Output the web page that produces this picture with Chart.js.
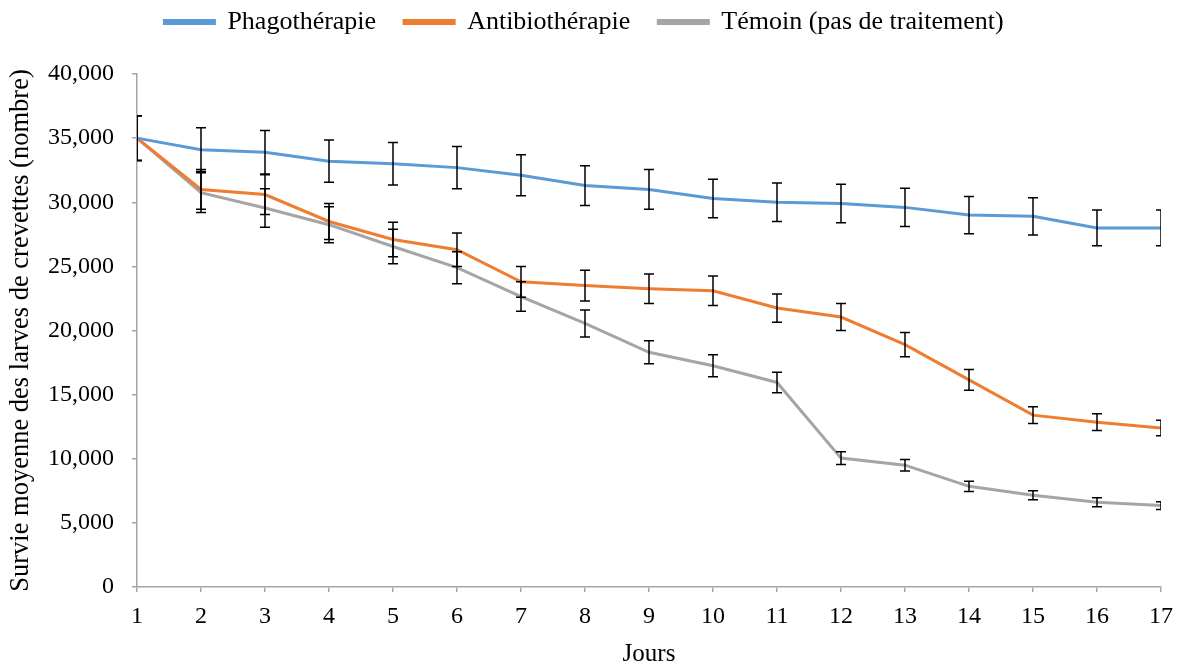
<!DOCTYPE html>
<html>
<head>
<meta charset="utf-8">
<script src="https://cdn.jsdelivr.net/npm/chart.js@4/dist/chart.umd.min.js"></script>
<style>
  html, body { margin: 0; padding: 0; background: #fff; }
  #wrap { width: 1183px; height: 667px; position: relative; }
</style>
</head>
<body>
<div id="wrap"><canvas id="survie"></canvas></div>
<script>
// --- data ---
const days = ['1','2','3','4','5','6','7','8','9','10','11','12','13','14','15','16','17'];
const seriesNames = ['Phagothérapie', 'Antibiothérapie', 'Témoin (pas de traitement)'];

const phago = [35000, 34100, 33900, 33200, 33000, 32700, 32100, 31300, 31000, 30300, 30000, 29900, 29600, 29000, 28900, 28000, 28000];
const antibio = [35000, 31000, 30600, 28500, 27100, 26300, 23800, 23500, 23250, 23100, 21750, 21050, 18900, 16150, 13400, 12850, 12400];
const temoin = [35000, 30750, 29550, 28250, 26550, 24900, 22650, 20550, 18300, 17250, 15950, 10050, 9500, 7850, 7150, 6600, 6350];

// error bar half-lengths (+/-)
const phagoErr = [1750, 1700, 1700, 1650, 1650, 1650, 1600, 1550, 1550, 1500, 1500, 1500, 1500, 1450, 1450, 1400, 1400];
const antibioErr = [1750, 1550, 1550, 1400, 1350, 1300, 1200, 1200, 1150, 1150, 1100, 1050, 950, 800, 650, 650, 600];
const temoinErr = [1750, 1550, 1500, 1400, 1350, 1250, 1150, 1050, 900, 850, 800, 500, 450, 400, 350, 350, 300];

const yTicks = [0, 5000, 10000, 15000, 20000, 25000, 30000, 35000, 40000];

const colors = ['#5B9BD5', '#ED7D31', '#A5A5A5'];
const FONT = "'Liberation Serif', 'Times New Roman', serif";
const LEGEND_SIZE = 26;
const LEGEND_PAD = 28;

// --- error bars, drawn on top of the lines ---
const errorBarPlugin = {
  id: 'errorBars',
  afterDatasetsDraw(chart) {
    const ctx = chart.ctx;
    const area = chart.chartArea;
    const yScale = chart.scales.y;
    ctx.save();
    ctx.beginPath();
    ctx.rect(area.left, 0, area.right - area.left, chart.height);
    ctx.clip();
    ctx.strokeStyle = '#000';
    ctx.lineWidth = 1.5;
    chart.data.datasets.forEach((ds, i) => {
      const meta = chart.getDatasetMeta(i);
      meta.data.forEach((pt, j) => {
        const v = ds.data[j];
        const e = ds.errors[j];
        const yTop = yScale.getPixelForValue(v + e);
        const yBot = yScale.getPixelForValue(v - e);
        const x = pt.x;
        ctx.beginPath();
        ctx.moveTo(x, yTop); ctx.lineTo(x, yBot);
        ctx.moveTo(x - 5, yTop); ctx.lineTo(x + 5, yTop);
        ctx.moveTo(x - 5, yBot); ctx.lineTo(x + 5, yBot);
        ctx.stroke();
      });
    });
    ctx.restore();
  }
};

// keep the legend row near the top edge (its centre at ~22px)
const legendTopPlugin = {
  id: 'legendTop',
  afterLayout(chart) {
    const lg = chart.legend;
    if (!lg) return;
    const h = lg.height;
    lg.top = 22 - LEGEND_PAD - LEGEND_SIZE / 2;
    lg.bottom = lg.top + h;
  }
};

function makeDataset(label, values, errs, color) {
  return {
    label: label,
    data: values,
    errors: errs,
    borderColor: color,
    backgroundColor: color,
    borderWidth: 3,
    pointRadius: 0,
    tension: 0,
    fill: false
  };
}

const ctx = document.getElementById('survie').getContext('2d');

new Chart(ctx, {
  type: 'line',
  data: {
    labels: days,
    datasets: [
      makeDataset(seriesNames[0], phago, phagoErr, colors[0]),
      makeDataset(seriesNames[1], antibio, antibioErr, colors[1]),
      makeDataset(seriesNames[2], temoin, temoinErr, colors[2])
    ]
  },
  options: {
    responsive: true,
    maintainAspectRatio: false,
    animation: false,
    layout: { padding: { top: 0, right: 15, bottom: 0, left: 0 } },
    plugins: {
      legend: {
        position: 'top',
        labels: {
          boxWidth: 50,
          boxHeight: 3,
          padding: LEGEND_PAD,
          color: '#000',
          font: { family: FONT, size: LEGEND_SIZE }
        }
      },
      tooltip: { enabled: false }
    },
    scales: {
      x: {
        type: 'category',
        offset: false,
        grid: { drawOnChartArea: false, drawTicks: true, tickLength: 5, color: '#A6A6A6', lineWidth: 1.5 },
        border: { display: true, color: '#A6A6A6', width: 1.5 },
        ticks: { color: '#000', padding: 10, maxRotation: 0, autoSkip: false, font: { family: FONT, size: 24 } },
        title: { display: true, text: 'Jours', color: '#000', padding: 0, font: { family: FONT, size: 25, lineHeight: 1 } },
        afterFit: scale => { scale.height = 80; }
      },
      y: {
        min: 0,
        max: 40000,
        afterBuildTicks: scale => { scale.ticks = yTicks.map(v => ({ value: v })); },
        grid: { drawOnChartArea: false, drawTicks: true, tickLength: 5, color: '#A6A6A6', lineWidth: 1.5 },
        border: { display: true, color: '#A6A6A6', width: 1.5 },
        ticks: {
          color: '#000',
          padding: 18,
          font: { family: FONT, size: 24 },
          callback: v => v.toLocaleString('en-US')
        },
        title: {
          display: true,
          text: 'Survie moyenne des larves de crevettes (nombre)',
          color: '#000',
          padding: { top: 8, bottom: 0 },
          font: { family: FONT, size: 26.5, lineHeight: 1 }
        },
        // fixed axis width, and push the plot top down to the 40,000 line
        afterFit: scale => { scale.width = 137; scale.paddingTop = 74; }
      }
    }
  },
  plugins: [errorBarPlugin, legendTopPlugin]
});
</script>
</body>
</html>
